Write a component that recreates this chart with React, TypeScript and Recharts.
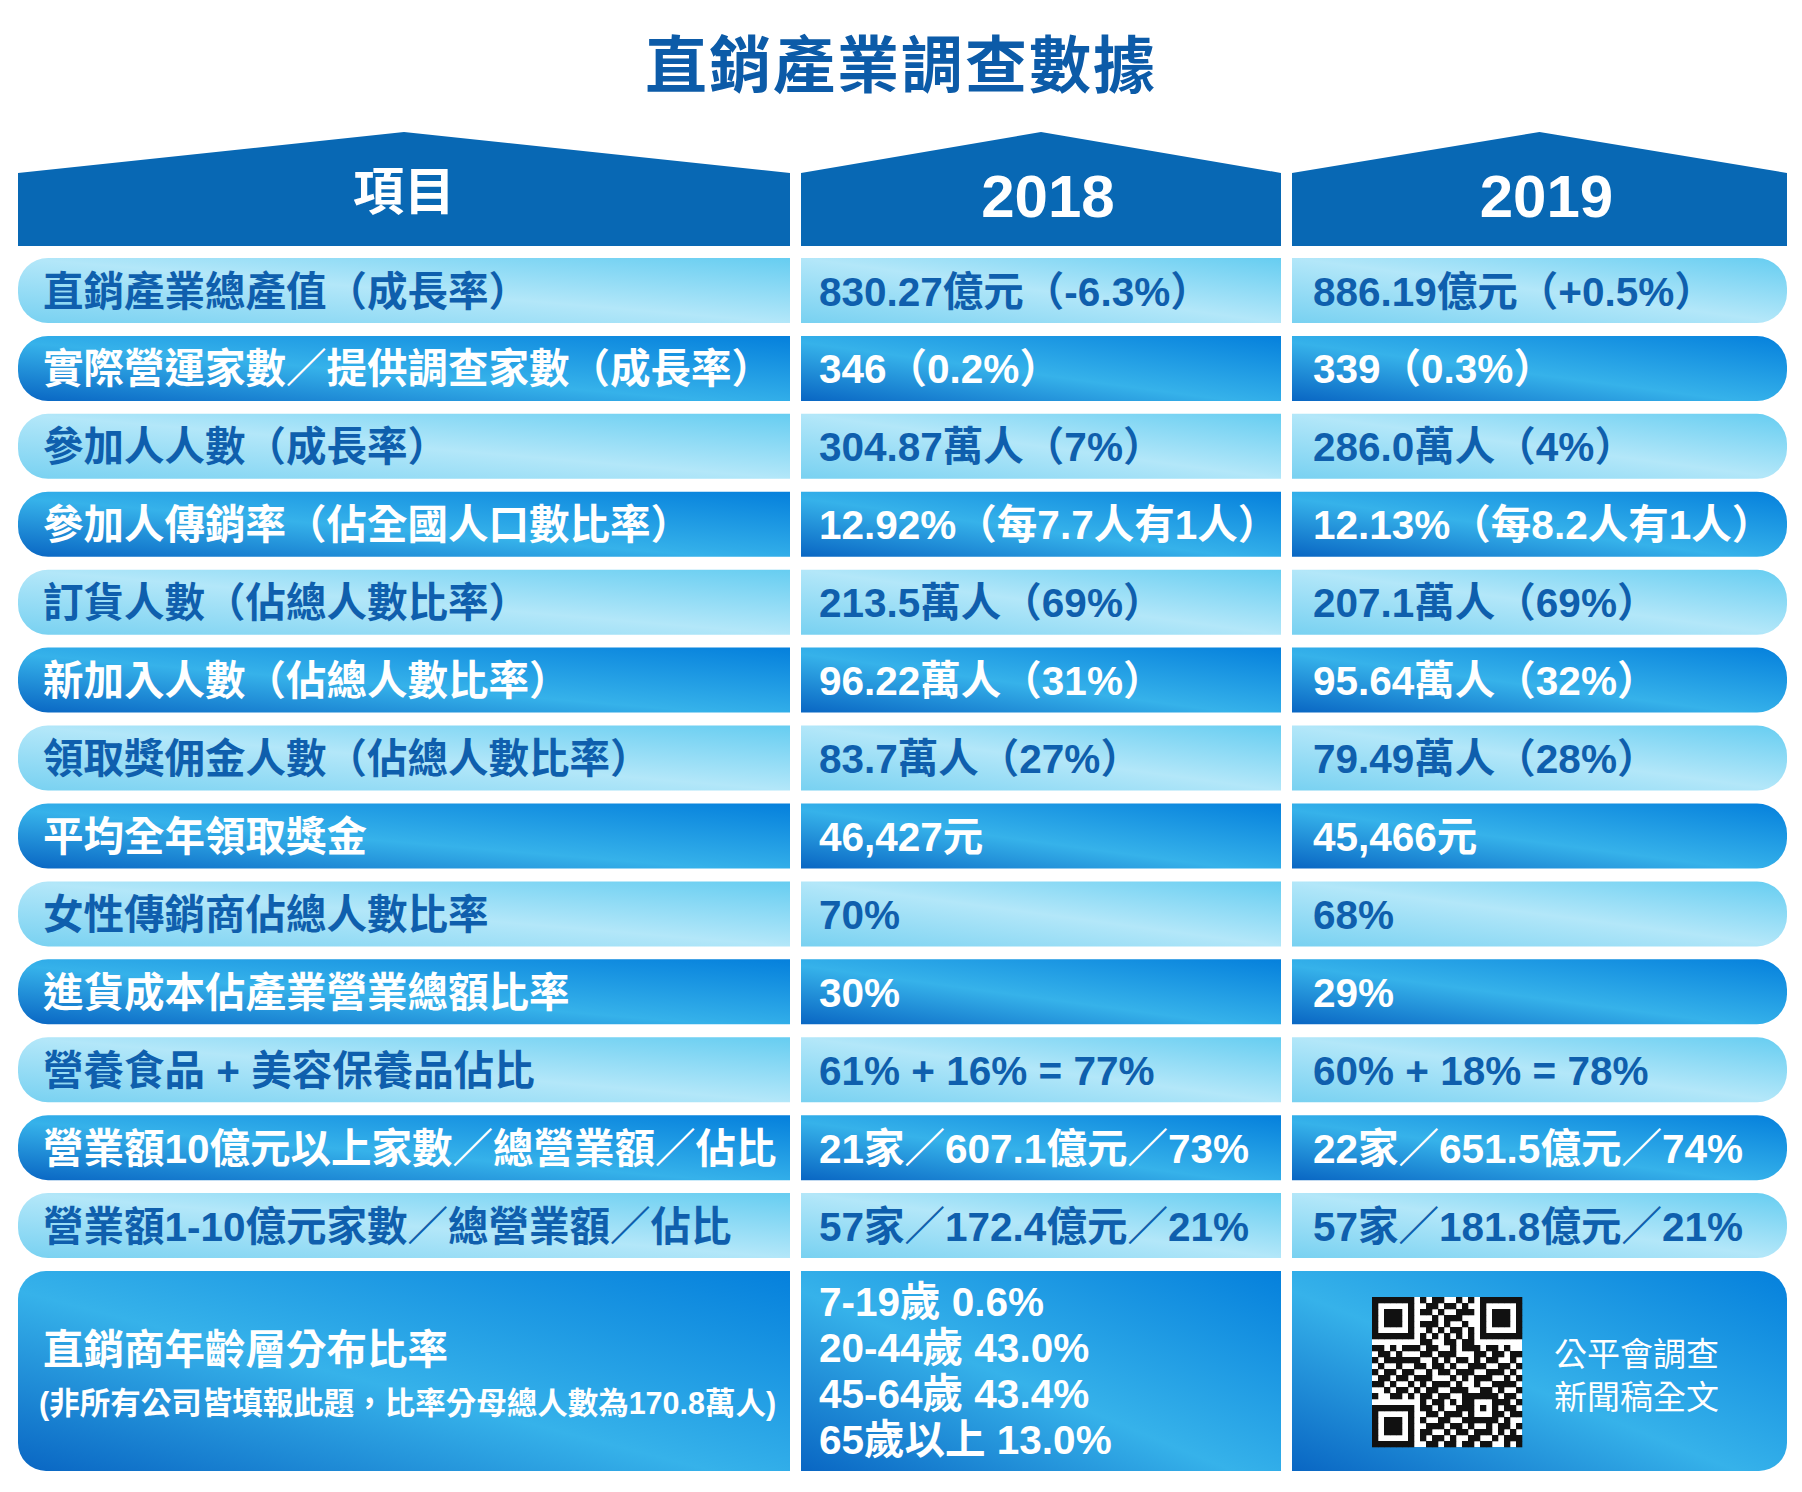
import React from "react";
import { BarChart, Bar, XAxis, YAxis } from "recharts";

const title = "直銷產業調查數據";
const columns = ["項目", "2018", "2019"];

const items = [
  "直銷產業總產值（成長率）",
  "實際營運家數／提供調查家數（成長率）",
  "參加人人數（成長率）",
  "參加人傳銷率（佔全國人口數比率）",
  "訂貨人數（佔總人數比率）",
  "新加入人數（佔總人數比率）",
  "領取獎佣金人數（佔總人數比率）",
  "平均全年領取獎金",
  "女性傳銷商佔總人數比率",
  "進貨成本佔產業營業總額比率",
  "營養食品 + 美容保養品佔比",
  "營業額10億元以上家數／總營業額／佔比",
  "營業額1-10億元家數／總營業額／佔比",
];

const values2018 = [
  "830.27億元（-6.3%）",
  "346（0.2%）",
  "304.87萬人（7%）",
  "12.92%（每7.7人有1人）",
  "213.5萬人（69%）",
  "96.22萬人（31%）",
  "83.7萬人（27%）",
  "46,427元",
  "70%",
  "30%",
  "61% + 16% = 77%",
  "21家／607.1億元／73%",
  "57家／172.4億元／21%",
];

const values2019 = [
  "886.19億元（+0.5%）",
  "339（0.3%）",
  "286.0萬人（4%）",
  "12.13%（每8.2人有1人）",
  "207.1萬人（69%）",
  "95.64萬人（32%）",
  "79.49萬人（28%）",
  "45,466元",
  "68%",
  "29%",
  "60% + 18% = 78%",
  "22家／651.5億元／74%",
  "57家／181.8億元／21%",
];

const ageLabel = "直銷商年齡層分布比率";
const ageNote = "(非所有公司皆填報此題，比率分母總人數為170.8萬人)";
const ages2018 = ["7-19歲 0.6%", "20-44歲 43.0%", "45-64歲 43.4%", "65歲以上 13.0%"];
const qrCaption = ["公平會調查", "新聞稿全文"];

// QR code picture (decoration)
const qrRows = [
  "1111111" + "0" + "101100101" + "0" + "1111111",
  "1000001" + "0" + "011011010" + "0" + "1000001",
  "1011101" + "0" + "110100111" + "0" + "1011101",
  "1011101" + "0" + "001011100" + "0" + "1011101",
  "1011101" + "0" + "111010010" + "0" + "1011101",
  "1000001" + "0" + "010101101" + "0" + "1000001",
  "1111111" + "0" + "101010101" + "0" + "1111111",
  "00000000" + "110011011" + "00000000",
  "1101011101100101110110100",
  "0110100011011100011011011",
  "1011111100101011010110010",
  "0100100110110100111001101",
  "1011011001011011100111010",
  "0110110111000101011100101",
  "1101001010111010010011110",
  "0010110101100111001101001",
  "1001101011011001" + "11111" + "0110",
  "00000000" + "10110101" + "10001" + "1101",
  "1111111" + "0" + "11010011" + "10101" + "0110",
  "1000001" + "0" + "01101110" + "10001" + "1011",
  "1011101" + "0" + "10011001" + "11111" + "0100",
  "1011101" + "0" + "01110110" + "100101101",
  "1011101" + "0" + "11001011" + "011101010",
  "1000001" + "0" + "10110100" + "110010111",
  "1111111" + "0" + "01101101" + "101100101",
];

const FONT = '"Liberation Sans", Arial, "Noto Sans CJK TC", sans-serif';
const HEADER = "#0868b4";
const INK = "#0f5fad";

const cols = [
  { key: "item", x: 18, w: 772, rl: 30, rr: 0, pad: 25, texts: items },
  { key: "y2018", x: 801, w: 480, rl: 0, rr: 0, pad: 18, texts: values2018 },
  { key: "y2019", x: 1292, w: 495, rl: 0, rr: 30, pad: 21, texts: values2019 },
];

function cellPath(x: number, y: number, w: number, h: number, rl: number, rr: number) {
  return `M${x + rl},${y} H${x + w - rr} A${rr},${rr} 0 0 1 ${x + w},${y + rr} V${y + h - rr} A${rr},${rr} 0 0 1 ${x + w - rr},${y + h} H${x + rl} A${rl},${rl} 0 0 1 ${x},${y + h - rl} V${y + rl} A${rl},${rl} 0 0 1 ${x + rl},${y} Z`;
}

function Shades({ id }: { id: string }) {
  return (
    <defs>
      <linearGradient id={`${id}-light`} x1="0" y1="1" x2="1" y2="0">
        <stop offset="0" stopColor="#78d1f1" />
        <stop offset="0.5" stopColor="#b3e7f9" />
        <stop offset="1" stopColor="#66cdf1" />
      </linearGradient>
      <linearGradient id={`${id}-dark`} x1="0" y1="1" x2="1" y2="0">
        <stop offset="0" stopColor="#0966c3" />
        <stop offset="0.45" stopColor="#36b2ea" />
        <stop offset="1" stopColor="#0580dc" />
      </linearGradient>
    </defs>
  );
}

function HeaderChart({ col, name }: { col: any; name: string }) {
  const data = [{ name, value: 1 }];
  const shape = (p: any) => {
    const { x, y, width, height } = p;
    const pts = `${x},${y + 41} ${x + width / 2},${y} ${x + width},${y + 41} ${x + width},${y + height} ${x},${y + height}`;
    const cjk = /[^\d]/.test(name);
    return (
      <g>
        <polygon points={pts} fill={HEADER} />
        <text
          x={x + width / 2 + (cjk ? 0 : 7)}
          y={y + (cjk ? 60 : 64)}
          textAnchor="middle"
          dominantBaseline="central"
          fill="#fff"
          fontFamily={FONT}
          fontWeight={700}
          fontSize={cjk ? 51 : 60}
        >
          {name}
        </text>
      </g>
    );
  };
  return (
    <BarChart width={col.w} height={114} data={data} layout="vertical" margin={{ top: 0, right: 0, bottom: 0, left: 0 }} barCategoryGap={0}>
      <XAxis type="number" domain={[0, 1]} hide />
      <YAxis type="category" dataKey="name" hide />
      <Bar dataKey="value" isAnimationActive={false} shape={shape} />
    </BarChart>
  );
}

function BodyChart({ col }: { col: any }) {
  const data = items.map((name, i) => ({ name, value: 1, text: col.texts[i], dark: i % 2 === 1 }));
  const shape = (p: any) => {
    const { x, y, width, height, payload } = p;
    return (
      <g>
        <path d={cellPath(x, y, width, height, col.rl, col.rr)} fill={`url(#${col.key}-${payload.dark ? "dark" : "light"})`} />
        <text
          x={x + col.pad}
          y={y + height / 2 + 1}
          dominantBaseline="central"
          fill={payload.dark ? "#fff" : INK}
          fontFamily={FONT}
          fontWeight={700}
          fontSize={40.5}
        >
          {payload.text}
        </text>
      </g>
    );
  };
  return (
    <BarChart width={col.w} height={1013} data={data} layout="vertical" margin={{ top: 0, right: 0, bottom: 0, left: 0 }} barSize={65}>
      <Shades id={col.key} />
      <XAxis type="number" domain={[0, 1]} hide />
      <YAxis type="category" dataKey="name" hide />
      <Bar dataKey="value" isAnimationActive={false} shape={shape} />
    </BarChart>
  );
}

function AgeCell({ x, y, width, height, col }: any) {
  const cy = y + height / 2;
  if (col.key === "item") {
    return (
      <g fill="#fff" fontFamily={FONT} fontWeight={700}>
        <text x={x + 25} y={cy - 21} dominantBaseline="central" fontSize={40.5}>{ageLabel}</text>
        <text x={x + 21} y={cy + 32} dominantBaseline="central" fontSize={30.5}>{ageNote}</text>
      </g>
    );
  }
  if (col.key === "y2018") {
    return (
      <g fill="#fff" fontFamily={FONT} fontWeight={700}>
        {ages2018.map((t, i) => (
          <text key={t} x={x + col.pad} y={cy + (i - 1.5) * 46} dominantBaseline="central" fontSize={40.5}>{t}</text>
        ))}
      </g>
    );
  }
  const size = 150;
  const m = size / qrRows.length;
  const qx = x + 80;
  const qy = y + 26;
  return (
    <g>
      <rect x={qx} y={qy} width={size} height={size} fill="#fff" />
      {qrRows.map((row, r) =>
        row.split("").map((b, c) =>
          b === "1" ? <rect key={`${r}-${c}`} x={qx + c * m} y={qy + r * m} width={m + 0.3} height={m + 0.3} fill="#111" /> : null
        )
      )}
      {qrCaption.map((t, i) => (
        <text key={t} x={x + 262} y={cy - 17 + i * 43} dominantBaseline="central" fill="#fff" fontFamily={FONT} fontSize={33}>{t}</text>
      ))}
    </g>
  );
}

function FootChart({ col }: { col: any }) {
  const data = [{ name: ageLabel, value: 1 }];
  const shape = (p: any) => {
    const { x, y, width, height } = p;
    return (
      <g>
        <path d={cellPath(x, y, width, height, col.rl ? 28 : 0, col.rr ? 28 : 0)} fill={`url(#${col.key}-f-dark)`} />
        <AgeCell x={x} y={y} width={width} height={height} col={col} />
      </g>
    );
  };
  return (
    <BarChart width={col.w} height={200} data={data} layout="vertical" margin={{ top: 0, right: 0, bottom: 0, left: 0 }} barCategoryGap={0}>
      <Shades id={`${col.key}-f`} />
      <XAxis type="number" domain={[0, 1]} hide />
      <YAxis type="category" dataKey="name" hide />
      <Bar dataKey="value" isAnimationActive={false} shape={shape} />
    </BarChart>
  );
}

export default function App() {
  return (
    <div style={{ position: "absolute", left: 0, top: 0, width: 1802, height: 1492, background: "#fff", overflow: "hidden" }}>
      <div
        style={{
          position: "absolute",
          left: 0,
          top: 33,
          width: 1802,
          textAlign: "center",
          fontFamily: FONT,
          fontWeight: 700,
          fontSize: 62,
          lineHeight: "68px",
          letterSpacing: 2,
          color: "#0c5ba8",
        }}
      >
        {title}
      </div>
      {cols.map((col, i) => (
        <React.Fragment key={col.key}>
          <div style={{ position: "absolute", left: col.x, top: 132 }}>
            <HeaderChart col={col} name={columns[i]} />
          </div>
          <div style={{ position: "absolute", left: col.x, top: 251.5 }}>
            <BodyChart col={col} />
          </div>
          <div style={{ position: "absolute", left: col.x, top: 1271 }}>
            <FootChart col={col} />
          </div>
        </React.Fragment>
      ))}
    </div>
  );
}
